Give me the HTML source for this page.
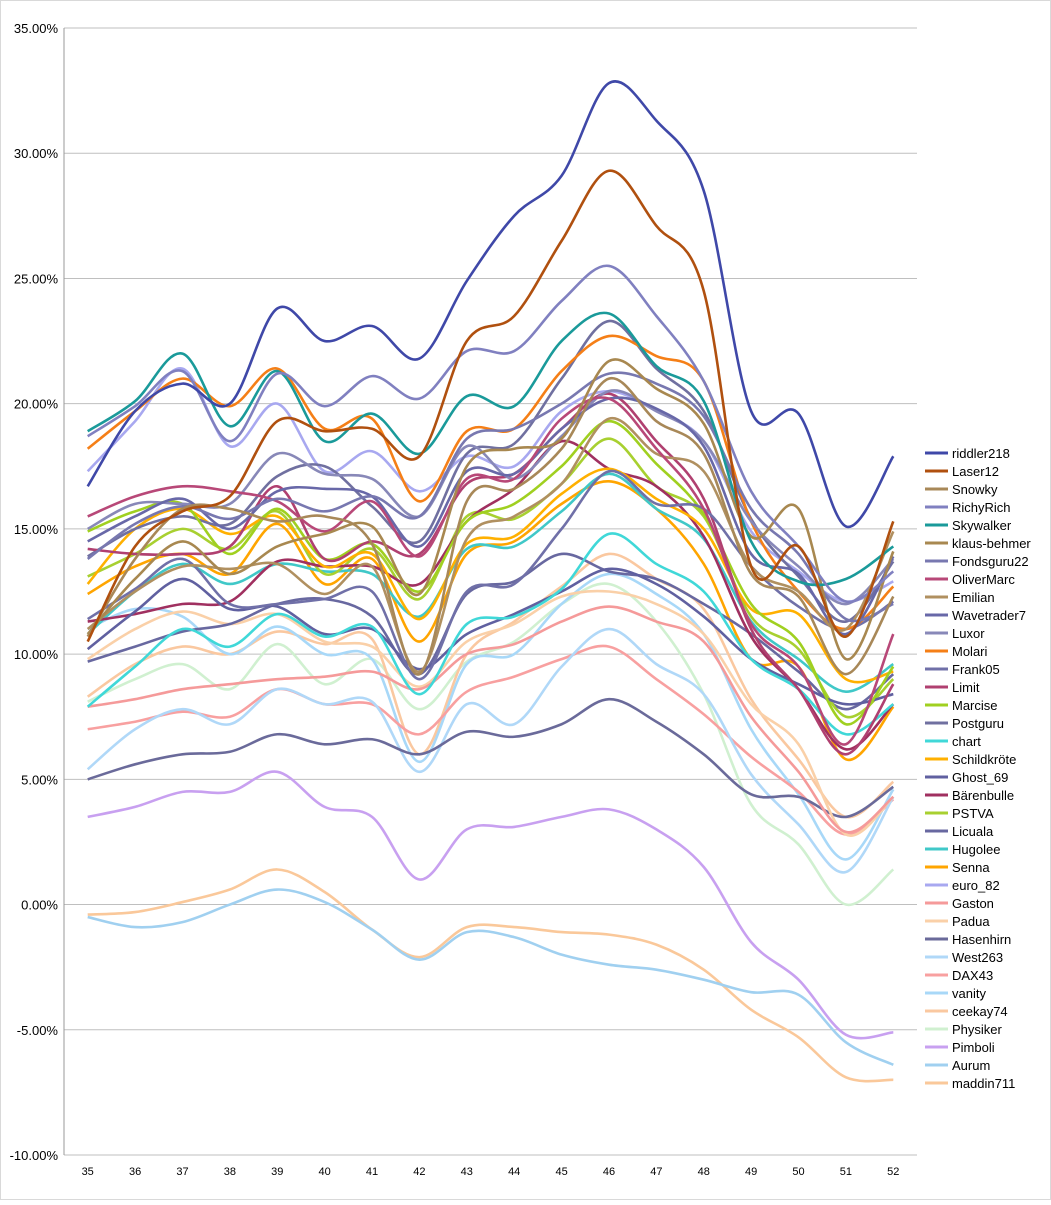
<!DOCTYPE html>
<html><head><meta charset="utf-8"><style>
body{margin:0;background:#fff;}
svg{font-family:"Liberation Sans",sans-serif;}
</style></head><body>
<svg id="c" width="1051" height="1200" xmlns="http://www.w3.org/2000/svg">
<rect x="0.5" y="0.5" width="1050" height="1199" fill="#fff" stroke="#d9d9d9"/>
</svg>
<script>
const weeks=[35,36,37,38,39,40,41,42,43,44,45,46,47,48,49,50,51,52];
const yTicks=[35,30,25,20,15,10,5,0,-5,-10];
const names=["riddler218","Laser12","Snowky","RichyRich","Skywalker","klaus-behmer","Fondsguru22","OliverMarc","Emilian","Wavetrader7","Luxor","Molari","Frank05","Limit","Marcise","Postguru","chart","Schildkröte","Ghost_69","Bärenbulle","PSTVA","Licuala","Hugolee","Senna","euro_82","Gaston","Padua","Hasenhirn","West263","DAX43","vanity","ceekay74","Physiker","Pimboli","Aurum","maddin711"];
const colors=["#3F48A8","#B0500F","#A88858","#8080C0","#1A9A9A","#A88850","#7878B0","#B84878","#B09060","#6868A8","#8888B8","#F57F17","#7070A8","#B04070","#A0D020","#7070A0","#40D8D8","#FFB000","#6060A0","#A03060","#A8D030","#6868A0","#40C8C8","#FFA500","#A8A8F0","#F59A9A","#FAD0A8","#6A6A9A","#B0D8F8","#F8A0A0","#A8D8F8","#FAC8A0","#D0F0D0","#C8A0F0","#A0D0F0","#FAC89A"];
const riddler218=[16.7,19.7,20.8,20.0,23.8,22.5,23.1,21.8,24.9,27.5,29.1,32.8,31.3,28.5,19.7,19.6,15.1,17.9];
const laser12=[10.5,14.3,15.7,16.3,19.3,18.9,19.0,17.9,22.5,23.5,26.5,29.3,27.1,24.5,13.5,14.3,10.7,15.3];
const snowky=[10.7,13.8,15.8,15.8,15.3,15.5,14.4,9.2,16.1,16.6,18.2,21.0,19.3,18.0,13.2,12.3,9.2,12.3];
const richyRich=[18.7,19.9,21.3,18.5,21.2,19.9,21.1,20.2,22.1,22.1,24.1,25.5,23.5,20.9,16.5,14.3,12.1,13.3];
const skywalker=[18.9,20.1,22.0,19.1,21.3,18.5,19.6,18.0,20.3,19.9,22.5,23.6,21.5,20.1,14.5,12.9,13.0,14.3];
const klausBehmer=[10.8,13.0,14.5,13.2,14.3,14.8,15.1,12.4,17.5,18.2,18.6,21.7,20.6,19.2,14.7,15.8,9.8,14.1];
const fondsguru22=[13.8,15.2,15.9,15.4,16.2,15.7,16.3,15.5,18.6,19.0,20.0,21.2,20.8,19.5,15.8,14.0,11.4,12.0];
const oliverMarc=[15.5,16.3,16.7,16.5,16.1,14.9,16.1,13.9,17.0,17.0,19.4,20.2,18.2,15.8,11.2,9.5,6.4,10.8];
const emilian=[11.0,12.5,13.5,13.4,13.6,12.4,13.5,9.3,14.6,15.5,16.8,19.4,18.0,17.3,13.5,12.5,11.0,14.9];
const wavetrader7=[14.5,15.5,16.2,15.0,16.5,16.6,16.3,14.3,17.3,17.2,19.0,20.2,19.8,18.3,14.0,13.2,10.8,13.9];
const luxor=[15.0,16.0,16.0,16.0,18.0,17.2,17.0,15.5,18.3,17.0,18.7,20.5,19.7,18.5,15.3,13.5,12.0,13.8];
const molari=[18.2,19.7,21.0,19.9,21.4,19.0,19.4,16.1,18.9,19.0,21.3,22.7,21.9,20.9,15.3,12.5,11.0,12.7];
const frank05=[11.4,12.6,13.8,12.0,12.0,12.2,12.5,9.0,12.5,12.8,15.0,17.3,16.0,15.8,13.5,11.9,11.0,12.1];
const limit=[14.2,14.0,14.0,14.3,16.7,13.8,14.5,14.0,16.8,17.2,19.0,20.4,18.5,16.2,11.0,8.6,6.0,8.8];
const marcise=[14.9,15.7,16.0,14.0,15.8,13.8,14.4,12.5,15.3,16.0,17.5,19.3,17.6,15.6,12.0,10.5,7.2,9.5];
const postguru=[13.9,15.0,15.5,15.2,17.1,17.5,15.9,14.5,18.0,18.4,21.0,23.3,21.4,19.7,15.4,13.1,11.3,13.7];
const chart=[7.9,9.5,11.0,10.3,11.6,10.7,11.1,8.4,11.2,11.5,12.6,14.8,13.6,12.5,9.8,8.6,6.8,8.0];
const schildkroete=[12.8,15.0,15.8,14.8,15.5,13.5,14.0,11.4,14.4,14.7,16.4,17.4,16.2,15.0,11.8,11.6,9.0,9.3];
const ghost69=[10.2,11.7,13.0,11.8,11.9,10.8,11.0,9.4,10.8,11.6,12.5,13.4,12.8,11.5,9.8,8.8,8.0,8.4];
const baerenbulle=[11.3,11.6,12.0,12.1,13.7,13.5,13.5,12.8,15.3,16.6,18.5,17.4,16.7,14.7,10.7,8.6,6.2,8.0];
const pstva=[13.1,14.0,15.0,14.2,15.7,13.2,14.2,12.2,15.5,15.4,16.8,18.6,16.7,15.5,11.5,10.2,7.5,9.0];
const licuala=[9.7,10.3,10.9,11.2,12.0,12.2,11.5,9.2,12.4,12.9,14.0,13.3,13.0,12.0,10.8,9.3,7.8,9.2];
const hugolee=[10.8,12.5,13.6,12.8,13.6,13.3,13.2,11.5,14.2,14.3,15.7,17.2,15.8,14.6,11.3,9.8,8.5,9.6];
const senna=[12.4,13.5,14.0,13.2,15.2,12.8,13.8,10.5,14.0,14.5,16.0,16.9,15.8,13.6,9.8,9.5,5.8,7.9];
const euro82=[17.3,19.3,21.4,18.3,20.0,17.3,18.1,16.5,17.9,17.5,19.7,20.5,19.7,18.5,14.9,13.3,12.1,12.9];
const gaston=[7.9,8.2,8.6,8.8,9.0,9.1,9.3,8.6,10.0,10.4,11.3,11.9,11.3,10.5,7.5,5.3,2.9,4.3];
const padua=[9.8,11.0,11.7,11.2,11.6,10.5,10.3,8.7,10.5,11.2,12.3,12.5,12.0,10.8,8.0,6.4,2.8,4.3];
const hasenhirn=[5.0,5.6,6.0,6.1,6.8,6.4,6.6,6.0,6.9,6.7,7.2,8.2,7.3,6.0,4.4,4.3,3.5,4.7];
const west263=[5.4,7.0,7.8,7.2,8.6,8.0,8.1,5.3,8.0,7.2,9.5,11.0,9.6,8.4,5.2,3.2,1.3,4.3];
const dax43=[7.0,7.3,7.7,7.5,8.6,8.0,8.0,6.8,8.5,9.1,9.8,10.3,9.0,7.6,5.9,4.5,2.8,4.2];
const vanity=[11.0,11.8,11.5,10.0,11.1,10.0,9.8,5.7,9.6,10.0,12.0,13.2,12.4,10.8,7.0,4.4,1.8,4.6];
const ceekay74=[8.3,9.6,10.3,10.0,10.9,10.4,10.6,6.0,10.0,11.3,12.7,14.0,13.0,11.8,8.2,5.8,3.5,4.9];
const physiker=[8.1,9.0,9.6,8.6,10.4,8.8,9.8,7.8,9.7,10.5,12.0,12.8,11.3,8.4,4.0,2.4,0.0,1.4];
const pimboli=[3.5,3.9,4.5,4.5,5.3,3.9,3.5,1.0,3.0,3.1,3.5,3.8,3.0,1.5,-1.5,-3.0,-5.2,-5.1];
const aurum=[-0.5,-0.9,-0.7,0.0,0.6,0.1,-1.0,-2.2,-1.1,-1.3,-2.0,-2.4,-2.6,-3.0,-3.5,-3.6,-5.5,-6.4];
const maddin711=[-0.4,-0.3,0.1,0.6,1.4,0.5,-1.0,-2.1,-0.9,-0.9,-1.1,-1.2,-1.6,-2.6,-4.2,-5.3,-6.9,-7.0];
const series=[riddler218,laser12,snowky,richyRich,skywalker,klausBehmer,fondsguru22,oliverMarc,emilian,wavetrader7,luxor,molari,frank05,limit,marcise,postguru,chart,schildkroete,ghost69,baerenbulle,pstva,licuala,hugolee,senna,euro82,gaston,padua,hasenhirn,west263,dax43,vanity,ceekay74,physiker,pimboli,aurum,maddin711];

const svg=document.getElementById('c');
const NS="http://www.w3.org/2000/svg";
const L=64,R=917,T=28,B=1155,ymin=-10,ymax=35;
const xs=i=>L+(i+0.5)*(R-L)/weeks.length;
const ys=v=>B-(v-ymin)/(ymax-ymin)*(B-T);
function mk(t,a){const e=document.createElementNS(NS,t);for(const k in a)e.setAttribute(k,a[k]);svg.appendChild(e);return e;}
yTicks.forEach(v=>{
  const g=mk('line',{x1:L,x2:R,y1:ys(v),y2:ys(v),stroke:'#bfbfbf','stroke-width':1});
  
  
  const t=mk('text',{x:L-6,y:ys(v)+5,'text-anchor':'end','font-size':13,fill:'#000'});
  t.textContent=v.toFixed(2)+'%';
  
  
});
const ax=mk('line',{x1:L,x2:L,y1:T,y2:B,stroke:'#999'});


weeks.forEach((w,i)=>{
  const t=mk('text',{x:xs(i),y:1175,'text-anchor':'middle','font-size':11,fill:'#000'});
  t.textContent=w;
  
  
});
function smooth(pts){
  let d=`M${pts[0][0]},${pts[0][1]}`;
  for(let i=0;i<pts.length-1;i++){
    const p0=pts[Math.max(0,i-1)],p1=pts[i],p2=pts[i+1],p3=pts[Math.min(pts.length-1,i+2)];
    const c1x=p1[0]+(p2[0]-p0[0])/6,c1y=p1[1]+(p2[1]-p0[1])/6;
    const c2x=p2[0]-(p3[0]-p1[0])/6,c2y=p2[1]-(p3[1]-p1[1])/6;
    d+=` C${c1x},${c1y} ${c2x},${c2y} ${p2[0]},${p2[1]}`;
  }
  return d;
}
for(let s=series.length-1;s>=0;s--){
  const p=mk('path',{d:smooth(series[s].map((v,i)=>[xs(i),ys(v)])),fill:'none',stroke:colors[s],'stroke-width':2.6});
  
  
}
const ly0=453,lstep=18;
names.forEach((n,i)=>{
  const y=ly0+i*lstep;
  const l=mk('line',{x1:925,x2:948,y1:y,y2:y,stroke:colors[i],'stroke-width':3});
  
  
  const t=mk('text',{x:952,y:y+5,'font-size':13,fill:'#000'});
  t.textContent=n;
  
  
});
</script>
</body></html>
